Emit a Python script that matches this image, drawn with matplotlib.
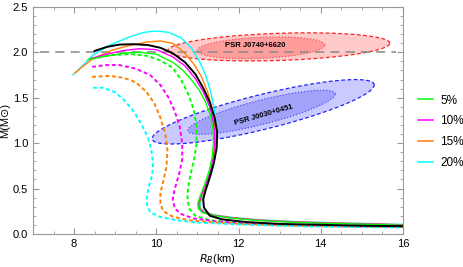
import numpy as np
import matplotlib.pyplot as plt
from matplotlib.lines import Line2D

plt.rcParams['font.family'] = ['Liberation Sans', 'DejaVu Sans']

# solid curves (R_B in km, M in solar masses)
black_r = [8.5, 8.8, 9.1, 9.45, 9.8, 10.1, 10.4, 10.7, 10.95, 11.15, 11.3, 11.42, 11.48, 11.47,
           11.4, 11.3, 11.2, 11.14, 11.16, 11.3, 11.6, 12.2, 13.0, 14.0, 15.0, 16.0]
black_m = [2.015, 2.06, 2.085, 2.09, 2.08, 2.05, 1.99, 1.89, 1.76, 1.6, 1.45, 1.28, 1.12, 0.95,
           0.78, 0.62, 0.48, 0.38, 0.29, 0.2, 0.16, 0.13, 0.11, 0.1, 0.09, 0.085]

green_r = [8.34, 8.8, 9.2, 9.6, 10.0, 10.4, 10.65, 10.85, 11.05, 11.2, 11.32, 11.38, 11.39, 11.36,
           11.29, 11.18, 11.07, 11.01, 11.02, 11.12, 11.4, 11.8, 12.4, 13.2, 14.2, 15.2, 16.0]
green_m = [1.92, 1.96, 1.99, 2.0, 1.98, 1.89, 1.8, 1.7, 1.58, 1.45, 1.3, 1.15, 1.0, 0.85,
           0.7, 0.55, 0.42, 0.34, 0.28, 0.235, 0.2, 0.175, 0.15, 0.13, 0.115, 0.105, 0.095]

magenta_r = [8.39, 8.8, 9.2, 9.6, 10.0, 10.4, 10.7, 10.95, 11.15, 11.3, 11.38, 11.41, 11.42, 11.39,
             11.32, 11.21, 11.09, 11.03, 11.04, 11.14, 11.4, 11.8, 12.4, 13.2, 14.2, 15.2, 16.0]
magenta_m = [1.93, 1.98, 2.02, 2.04, 2.03, 1.95, 1.85, 1.71, 1.56, 1.4, 1.25, 1.15, 1.0, 0.85,
             0.7, 0.55, 0.42, 0.34, 0.28, 0.238, 0.203, 0.178, 0.153, 0.133, 0.118, 0.108, 0.098]

orange_r = [8.02, 8.2, 8.46, 8.9, 9.3, 9.8, 10.1, 10.4, 10.65, 10.9, 11.1, 11.25, 11.35, 11.41,
            11.43, 11.41, 11.34, 11.23, 11.11, 11.05, 11.06, 11.16, 11.4, 11.8, 12.4, 13.2, 14.2,
            15.2, 16.0]
orange_m = [1.77, 1.84, 1.93, 2.02, 2.07, 2.115, 2.125, 2.1, 2.01, 1.88, 1.73, 1.56, 1.4, 1.25,
            1.0, 0.85, 0.7, 0.55, 0.42, 0.34, 0.28, 0.241, 0.206, 0.181, 0.156, 0.136, 0.121,
            0.111, 0.101]

cyan_r = [7.97, 8.2, 8.46, 8.87, 9.29, 9.7, 10.0, 10.3, 10.6, 10.85, 11.05, 11.2, 11.32, 11.4,
          11.44, 11.45, 11.43, 11.36, 11.25, 11.13, 11.07, 11.08, 11.18, 11.4, 11.8, 12.4, 13.2,
          14.2, 15.2, 16.0]
cyan_m = [1.75, 1.85, 1.97, 2.08, 2.16, 2.22, 2.235, 2.22, 2.16, 2.05, 1.9, 1.75, 1.57, 1.4,
          1.25, 1.0, 0.85, 0.7, 0.55, 0.42, 0.34, 0.28, 0.244, 0.21, 0.184, 0.159, 0.139, 0.124,
          0.114, 0.104]

# dashed curves
green_d_r = [8.43, 8.9, 9.4, 9.8, 10.1, 10.4, 10.6, 10.8, 10.92, 10.98, 10.98, 10.92, 10.83, 10.77,
             10.76, 10.8, 10.95, 11.3, 12.0, 13.0, 14.0, 15.0, 16.0]
green_d_m = [1.93, 1.97, 1.98, 1.96, 1.91, 1.83, 1.7, 1.52, 1.35, 1.18, 1.0, 0.82, 0.65, 0.5,
             0.38, 0.28, 0.2, 0.15, 0.12, 0.1, 0.09, 0.085, 0.08]

magenta_d_r = [8.44, 8.8, 9.1, 9.5, 9.85, 10.1, 10.3, 10.45, 10.57, 10.63, 10.63, 10.55, 10.45,
               10.4, 10.45, 10.6, 10.9, 11.4, 12.0, 13.0, 14.0, 15.0, 16.0]
magenta_d_m = [1.84, 1.86, 1.86, 1.82, 1.75, 1.64, 1.5, 1.35, 1.18, 1.0, 0.82, 0.65, 0.5,
               0.38, 0.28, 0.22, 0.17, 0.14, 0.12, 0.1, 0.09, 0.08, 0.075]

orange_d_r = [8.44, 8.87, 9.2, 9.5, 9.75, 9.95, 10.1, 10.22, 10.27, 10.25, 10.18, 10.1, 10.1,
              10.17, 10.4, 10.8, 11.3, 12.0, 13.0, 14.0, 15.0, 16.0]
orange_d_m = [1.73, 1.74, 1.72, 1.67, 1.57, 1.44, 1.28, 1.1, 0.92, 0.75, 0.6, 0.45, 0.33,
              0.25, 0.19, 0.15, 0.13, 0.11, 0.095, 0.085, 0.08, 0.075]

cyan_d_r = [8.46, 8.7, 9.0, 9.25, 9.45, 9.65, 9.8, 9.88, 9.92, 9.9, 9.82, 9.77, 9.77, 9.85,
            10.1, 10.5, 11.0, 12.0, 13.0, 14.0, 15.0, 16.0]
cyan_d_m = [1.61, 1.61, 1.56, 1.46, 1.35, 1.2, 1.06, 0.92, 0.78, 0.65, 0.52, 0.42, 0.33, 0.24,
            0.185, 0.15, 0.125, 0.105, 0.09, 0.08, 0.075, 0.07]

# observational regions: center R, center M, half-width R, half-height M, phase
j0740_outer = [12.98, 2.06, 2.7, 0.155, 1.31]
j0740_inner = [12.55, 2.05, 1.55, 0.12, 1.32]
j0030_outer = [12.6, 1.345, 2.7, 0.355, 0.59]
j0030_inner = [12.56, 1.34, 1.79, 0.243, 0.6]

labels = ['5%', '10%', '15%', '20%']
colors = ['#00ff00', '#ff00ff', '#ff8000', '#00ffff']

fig = plt.figure(figsize=(4.64, 2.67), dpi=100)
ax = fig.add_axes([0.071, 0.124, 0.7975, 0.85])


def region(p, fc, ec, ls):
    t = np.linspace(0, 2 * np.pi, 300)
    x = p[0] + p[2] * np.cos(t)
    y = p[1] + p[3] * np.cos(t - p[4])
    ax.fill(x, y, facecolor=fc, edgecolor='none', zorder=1)
    ax.plot(x, y, color=ec, lw=0.9, ls=ls, zorder=1.5)


region(j0740_outer, '#ffcaca', '#ff2020', (0, (3, 2)))
region(j0740_inner, '#ff9c9c', '#ff5050', (0, (1, 1.5)))
region(j0030_outer, '#cacaff', '#2020ff', (0, (3, 2)))
region(j0030_inner, '#a2a2f8', '#5050ff', (0, (1, 1.5)))

ax.axhline(2.0, xmin=0.02, xmax=0.98, color='#888888', lw=1.1, ls=(0, (6, 4)), zorder=2)

dash = (0, (2, 1.4))
for r, m, c in [(green_d_r, green_d_m, colors[0]), (magenta_d_r, magenta_d_m, colors[1]),
                (orange_d_r, orange_d_m, colors[2]), (cyan_d_r, cyan_d_m, colors[3])]:
    ax.plot(r, m, color=c, lw=1.4, ls=dash, zorder=3)

for r, m, c in [(cyan_r, cyan_m, colors[3]), (orange_r, orange_m, colors[2]),
                (magenta_r, magenta_m, colors[1]), (green_r, green_m, colors[0])]:
    ax.plot(r, m, color=c, lw=1.0, zorder=4)
ax.plot(black_r, black_m, color='black', lw=1.4, zorder=5)

ax.text(12.4, 2.07, 'PSR J0740+6620', fontsize=5.5, fontweight='bold', ha='center', va='center',
        zorder=6)
ax.text(12.62, 1.31, 'PSR J0030+0451', fontsize=5.5, fontweight='bold', ha='center', va='center',
        rotation=16, zorder=6)

ax.set_xlim(7, 16)
ax.set_ylim(0, 2.5)
ax.set_xticks([8, 10, 12, 14, 16])
ax.set_xticks(np.arange(7, 16.01, 0.5), minor=True)
ax.set_yticks([0.0, 0.5, 1.0, 1.5, 2.0, 2.5])
ax.set_yticks(np.arange(0, 2.51, 0.1), minor=True)
ax.tick_params(which='both', direction='in', top=True, right=True, labelsize=8, color='#999999')
ax.tick_params(which='major', length=4)
ax.tick_params(which='minor', length=2)
for s in ax.spines.values():
    s.set_color('#999999')
ax.set_xlabel('$R_B$(km)', fontsize=8, labelpad=2)
ax.set_ylabel('M(M\u2299)', fontsize=8, labelpad=2)

handles = [Line2D([], [], color=c, lw=1.1) for c in colors]
fig.legend(handles, labels, loc='center left', bbox_to_anchor=(0.9, 0.506), frameon=False,
           fontsize=8.5, handlelength=1.3, handletextpad=0.6, labelspacing=0.75,
           borderpad=0, borderaxespad=0)

fig.savefig('out.png', dpi=100)
